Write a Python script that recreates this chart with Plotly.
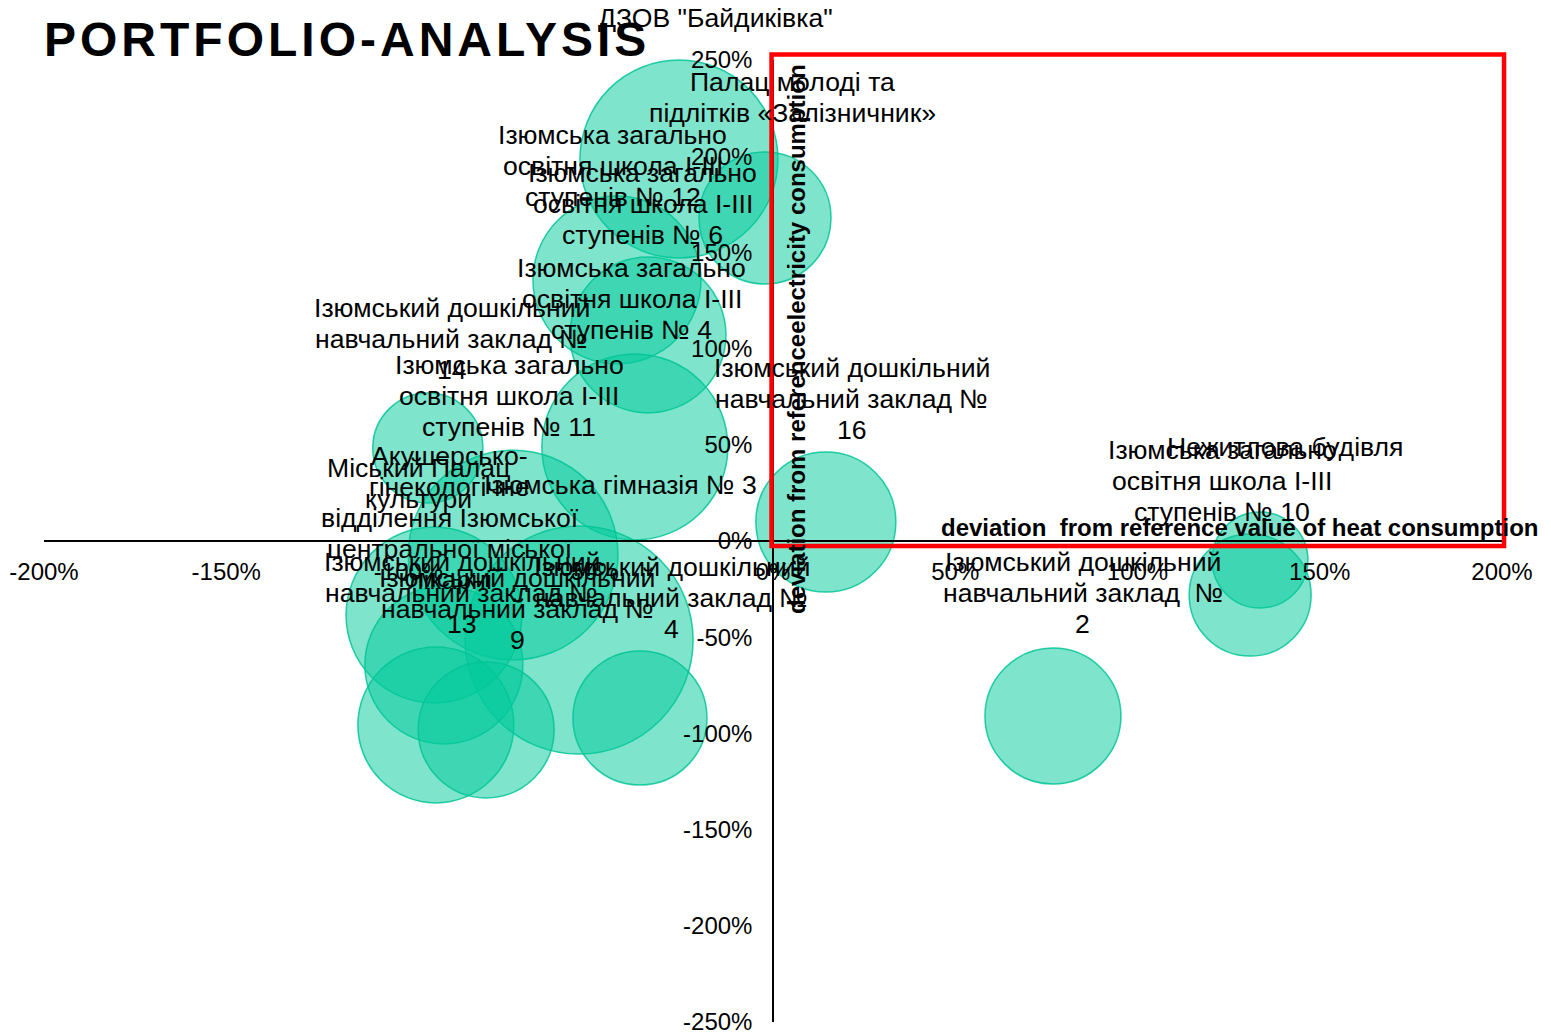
import plotly.graph_objects as go

# ---------------- data ----------------
names = [
    'ДЗОВ "Байдиківка"',
    'Палац молоді та<br>підлітків «Залізничник»',
    'Ізюмська загально<br>освітня школа І-ІІІ<br>ступенів № 12',
    'Ізюмська загально<br>освітня школа І-ІІІ<br>ступенів № 6',
    'Ізюмська загально<br>освітня школа І-ІІІ<br>ступенів № 4',
    'Ізюмський дошкільний<br>навчальний заклад №<br>14',
    'Ізюмська загально<br>освітня школа І-ІІІ<br>ступенів № 11',
    'Ізюмський дошкільний<br>навчальний заклад №<br>16',
    'Нежитлова будівля',
    'Ізюмська загально<br>освітня школа І-ІІІ<br>ступенів № 10',
    'Ізюмський дошкільний<br>навчальний заклад  №<br>2',
    'Ізюмська гімназія № 3',
    'Міський Палац<br>культури',
    'Акушерсько-<br>гінекологічне<br>відділення Ізюмської<br>центральної міської<br>лікарні',
    'Ізюмський дошкільний<br>навчальний заклад №<br>13',
    'Ізюмський дошкільний<br>навчальний заклад №<br>9',
    'Ізюмський дошкільний<br>навчальний заклад №<br>4',
]
# deviation from reference value of heat consumption, %
heat_dev = [-25.8, -2.2, -42.8, -34.3, -37.9, -94.7, -71.3, 14.5, 133.6, 130.9,
            76.8, -53.2, -93.0, -90.3, -92.5, -78.7, -36.5]
# deviation from reference electricity consumption, %
elec_dev = [198.5, 167.9, 135.7, 107.1, 48.9, 48.3, -7.3, 9.9, -9.9, -28.1,
            -91.0, -51.5, -38.5, -64.4, -95.6, -98.2, -92.0]
# bubble size (relative consumption volume)
bubble_size = [98.0, 43.6, 70.6, 60.8, 86.5, 30.3, 110.0, 49.0, 23.0, 37.2,
               46.2, 130.0, 77.4, 62.4, 60.8, 46.2, 44.9]

x_ticks = [-200, -150, -100, -50, 0, 50, 100, 150, 200]
y_ticks = [-250, -200, -150, -100, -50, 0, 50, 100, 150, 200, 250]

# ---------------- styling / layout ----------------
# label offsets (px) of the label block centre from the bubble centre
label_dx = [37, 28, -4, -5, -3, 24, -4, 26, 25, -28, 30, 41, -16, 6, 26, 31, 32]
label_dy = [141, 120, 114, 131, 148, 109, 159, 123, 113, 114, 123, 155, 132, 147, 132, 121, 120]
LINE_H = 31
LABEL_SIZE = 26.6

FONT = "Liberation Sans, Arial, sans-serif"
max_diam = 228
sizeref = 2.0 * max(bubble_size) / (max_diam ** 2)

fig = go.Figure()
fig.add_trace(go.Scatter(
    x=heat_dev, y=elec_dev, mode="markers",
    marker=dict(size=bubble_size, sizemode="area", sizeref=sizeref, opacity=1,
                color="rgba(0,201,153,0.5)",
                line=dict(color="rgba(0,196,150,0.85)", width=1.5)),
    cliponaxis=False, hoverinfo="skip", showlegend=False,
))

annotations = []
for n, xv, yv, dx, dy in zip(names, heat_dev, elec_dev, label_dx, label_dy):
    lines = n.split("<br>")
    k = len(lines)
    for i, line in enumerate(lines):
        off = ((k - 1) / 2.0 - i) * LINE_H
        annotations.append(dict(
            x=xv, y=yv, xref="x", yref="y", text=line, showarrow=False,
            xshift=dx, yshift=dy + off, xanchor="center", yanchor="middle",
            font=dict(family=FONT, size=LABEL_SIZE, color="black"), align="center"))

# title
annotations.append(dict(
    x=0, y=1.0208, xref="paper", yref="paper", xshift=-2,
    text='<span style="letter-spacing:4px"><b>PORTFOLIO-ANALYSIS</b></span>',
    showarrow=False, xanchor="left", yanchor="middle",
    font=dict(family=FONT, size=48, color="black")))
# axis titles
annotations.append(dict(
    x=1.026, y=0, xref="paper", yref="y", yshift=14,
    text="<b>deviation  from reference value of heat consumption</b>",
    showarrow=False, xanchor="right", yanchor="middle",
    font=dict(family=FONT, size=24, color="black")))
annotations.append(dict(
    x=0, y=104.5, xref="x", yref="y", xshift=24,
    text="<b>deviation from referenceelectricity consumption</b>",
    showarrow=False, xanchor="center", yanchor="middle", textangle=-90,
    font=dict(family=FONT, size=24, color="black")))

fig.update_layout(
    width=1551, height=1033,
    margin=dict(l=36, r=57, t=52, b=19, autoexpand=False),
    paper_bgcolor="white", plot_bgcolor="white",
    font=dict(family=FONT, size=24, color="black"),
    annotations=annotations,
    xaxis=dict(range=[-200, 200], tickvals=x_ticks,
               ticktext=[f"{v}%" for v in x_ticks],
               anchor="free", position=0.5, automargin=False,
               showline=True, linecolor="black", linewidth=1.5,
               showgrid=False, zeroline=False, ticks="",
               ticklabelstandoff=9, ticklabeloverflow="allow",
               tickfont=dict(family=FONT, size=24, color="black")),
    yaxis=dict(range=[-250, 250], tickvals=y_ticks,
               ticktext=[f"{v}%" for v in y_ticks],
               anchor="free", position=0.5, automargin=False,
               showline=True, linecolor="black", linewidth=1.5,
               showgrid=False, zeroline=False, ticks="",
               ticklabelstandoff=15, ticklabeloverflow="allow",
               tickfont=dict(family=FONT, size=24, color="black")),
    shapes=[dict(type="rect", xref="paper", yref="paper",
                 x0=0.499, x1=1.0014, y0=0.4948, y1=1.0057,
                 line=dict(color="red", width=4.5), fillcolor="rgba(0,0,0,0)",
                 layer="above")],
)

fig.write_html("out.html")
